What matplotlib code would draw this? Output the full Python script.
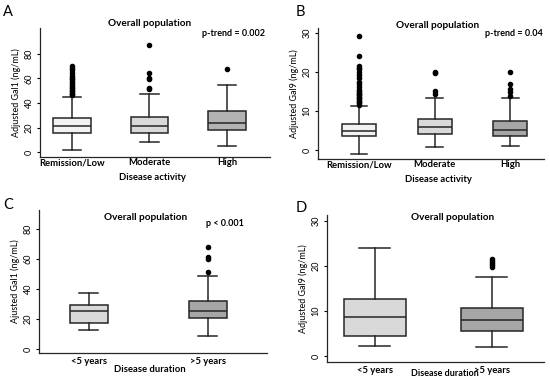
import matplotlib
matplotlib.use("Agg")
import matplotlib.pyplot as plt

plt.rcParams['font.family'] = ['Lato', 'DejaVu Sans']

# ---- data (box stats) ----
activity_labels = ["Remission/Low", "Moderate", "High"]
duration_labels = ["<5 years", ">5 years"]

# Panel A: Gal1 by disease activity
gal1_act_whislo = [2.0, 8.2, 4.9]
gal1_act_q1 = [15.6, 15.6, 17.8]
gal1_act_med = [21.0, 21.0, 23.3]
gal1_act_q3 = [27.4, 28.8, 33.4]
gal1_act_whishi = [45.0, 47.0, 54.8]
gal1_act_fliers = [
    [46.5, 47.5, 48.5, 49.5, 50.5, 52, 53, 55, 56.5, 58, 59.5, 60.5, 62, 64.5, 66.5, 68.5, 70],
    [51.0, 51.8, 59.7, 60.5, 64.4, 86.8],
    [68.0],
]

# Panel B: Gal9 by disease activity
gal9_act_whislo = [-1.0, 0.85, 1.0]
gal9_act_q1 = [3.6, 4.0, 3.6]
gal9_act_med = [4.8, 5.9, 5.1]
gal9_act_q3 = [6.6, 7.9, 7.5]
gal9_act_whishi = [11.2, 13.4, 13.2]
gal9_act_fliers = [
    [11.6, 12.0, 12.3, 12.6, 13.0, 13.3, 13.6, 14.0, 14.3, 14.7, 15.0, 15.4,
     16.0, 16.8, 17.5, 18.4, 19.2, 20.0, 20.6, 21.0, 21.5, 24.0, 29.2],
    [14.4, 15.1, 19.7, 20.0],
    [13.8, 14.9, 15.5, 17.0, 20.0],
]

# Panel C: Gal1 by disease duration
gal1_dur_whislo = [12.7, 8.9]
gal1_dur_q1 = [17.1, 20.7]
gal1_dur_med = [25.6, 25.6]
gal1_dur_q3 = [29.2, 31.8]
gal1_dur_whishi = [37.6, 48.8]
gal1_dur_fliers = [[], [51.3, 60.1, 61.2, 68.4]]

# Panel D: Gal9 by disease duration
gal9_dur_whislo = [2.3, 2.1]
gal9_dur_q1 = [4.5, 5.6]
gal9_dur_med = [8.6, 8.0]
gal9_dur_q3 = [12.6, 10.7]
gal9_dur_whishi = [24.0, 17.5]
gal9_dur_fliers = [[], [19.7, 20.2, 20.7, 21.2, 21.6]]

W, H = 550, 381
fig = plt.figure(figsize=(W / 100, H / 100), dpi=100)


def px_axes(left, right, top, bottom):
    return fig.add_axes([left / W, 1 - bottom / H, (right - left) / W, (bottom - top) / H])


def stats(labels, lo, q1, med, q3, hi, fl):
    return [dict(label=l, whislo=a, q1=b, med=c, q3=d, whishi=e, fliers=f)
            for l, a, b, c, d, e, f in zip(labels, lo, q1, med, q3, hi, fl)]


def draw(ax, st, colors, width, xlim, ylim, yticks, ylabel, xpad):
    edge = '#262626'
    bp = ax.bxp(st, widths=width, patch_artist=True, showfliers=True,
                boxprops=dict(edgecolor=edge, linewidth=1.1),
                medianprops=dict(color=edge, linewidth=1.1),
                whiskerprops=dict(color=edge, linewidth=1.1),
                capprops=dict(color=edge, linewidth=1.1),
                capwidths=width * 0.5,
                flierprops=dict(marker='o', markerfacecolor='black', markeredgecolor='black',
                                markersize=3))
    for patch, c in zip(bp['boxes'], colors):
        patch.set_facecolor(c)
    ax.set_xlim(*xlim)
    ax.set_ylim(*ylim)
    ax.set_yticks(yticks)
    ax.set_yticklabels([str(t) for t in yticks], rotation=90, va='center', fontsize=6.5)
    ax.tick_params(axis='y', length=2.5, width=0.8, pad=2)
    ax.tick_params(axis='x', length=0, pad=xpad, labelsize=6.8)
    for lab in ax.get_xticklabels():
        lab.set_fontweight('bold')
    for s in ['top', 'right']:
        ax.spines[s].set_visible(False)
    for s in ['left', 'bottom']:
        ax.spines[s].set_linewidth(0.9)
        ax.spines[s].set_color('#262626')
    ax.set_ylabel(ylabel, fontsize=6.5, labelpad=3)


# Panel A
axA = px_axes(40, 270, 28, 157)
draw(axA, stats(activity_labels, gal1_act_whislo, gal1_act_q1, gal1_act_med, gal1_act_q3,
                gal1_act_whishi, gal1_act_fliers),
     ['#f2f2f2', '#d9d9d9', '#b3b3b3'], 0.48, (0.587, 3.555), (-4, 101),
     [0, 20, 40, 60, 80], 'Adjusted Gal1 (ng/mL)', 1.0)

# Panel B
axB = px_axes(318, 544, 28, 159)
draw(axB, stats(activity_labels, gal9_act_whislo, gal9_act_q1, gal9_act_med, gal9_act_q3,
                gal9_act_whishi, gal9_act_fliers),
     ['#f2f2f2', '#d9d9d9', '#a6a6a6'], 0.45, (0.457, 3.45), (-2.3, 31.2),
     [0, 10, 20, 30], 'Adjusted Gal9 (ng/mL)', 1.0)

# Panel C
axC = px_axes(39, 267, 210, 353)
draw(axC, stats(duration_labels, gal1_dur_whislo, gal1_dur_q1, gal1_dur_med, gal1_dur_q3,
                gal1_dur_whishi, gal1_dur_fliers),
     ['#d9d9d9', '#a6a6a6'], 0.32, (0.58, 2.496), (-2.7, 92.9),
     [0, 20, 40, 60, 80], 'Ajusted Gal1 (ng/mL)', 3.0)

# Panel D
axD = px_axes(327, 544, 215, 362)
draw(axD, stats(duration_labels, gal9_dur_whislo, gal9_dur_q1, gal9_dur_med, gal9_dur_q3,
                gal9_dur_whishi, gal9_dur_fliers),
     ['#d9d9d9', '#a6a6a6'], 0.53, (0.59, 2.445), (-1.33, 31.3),
     [0, 10, 20, 30], 'Adjusted Gal9 (ng/mL)', 3.0)


def ftext(x, y, s, **kw):
    fig.text(x / W, 1 - y / H, s, **kw)


# panel letters
for x, y, s in [(3, 12, 'A'), (296, 12, 'B'), (3, 205, 'C'), (296, 208, 'D')]:
    ftext(x, y, s, fontsize=10.5, va='center', ha='left')

# titles
for x, y in [(150, 23), (438, 25), (146, 218), (453, 218)]:
    ftext(x, y, 'Overall population', fontsize=7.2, fontweight='bold', ha='center', va='center')

# p-values
ftext(265, 33, 'p-trend = 0.002', fontsize=6.5, fontweight='bold', ha='right', va='center')
ftext(543, 33, 'p-trend = 0.04', fontsize=6.5, fontweight='bold', ha='right', va='center')
ftext(225, 223, 'p < 0.001', fontsize=6.5, fontweight='bold', ha='center', va='center')

# x-axis titles
ftext(152, 177, 'Disease activity', fontsize=6.8, fontweight='bold', ha='center', va='center')
ftext(438, 179, 'Disease activity', fontsize=6.8, fontweight='bold', ha='center', va='center')
ftext(150, 369, 'Disease duration', fontsize=6.8, fontweight='bold', ha='center', va='center')
ftext(445, 374, 'Disease duration', fontsize=6.5, fontweight='bold', ha='center', va='center')

fig.savefig('out.png', dpi=100)
